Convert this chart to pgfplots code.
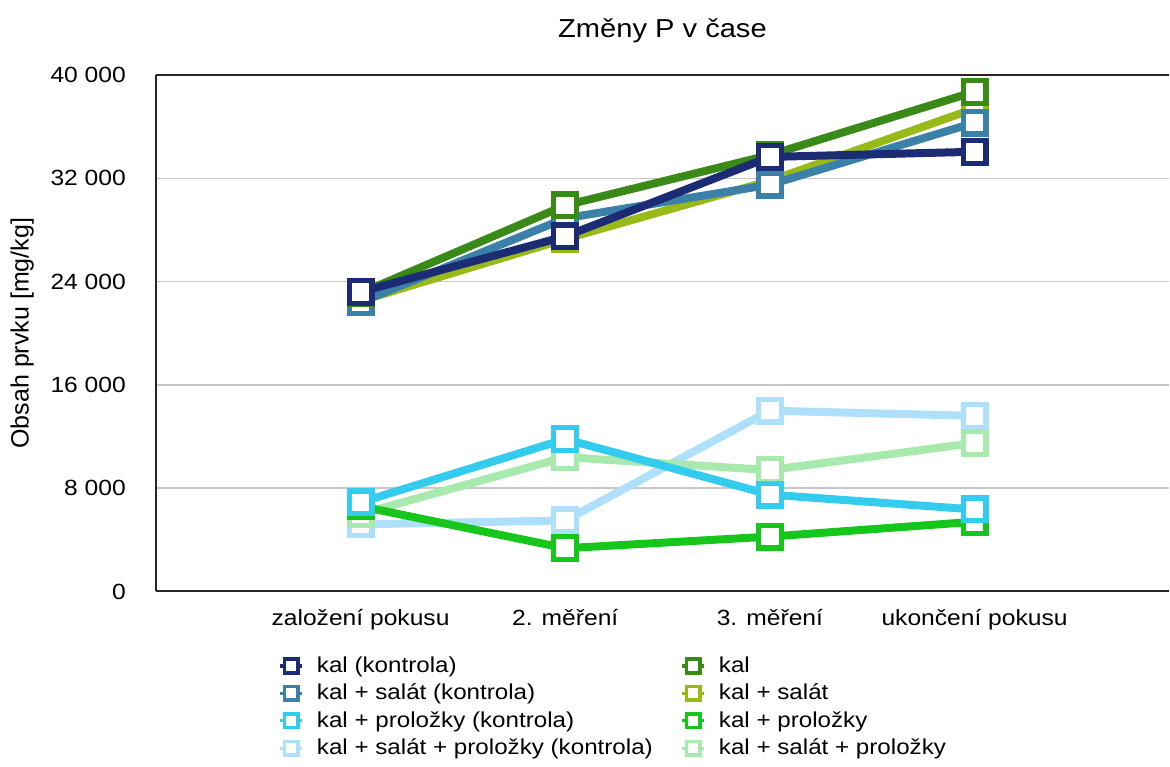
\documentclass[border=0pt]{standalone}
\usepackage{fontspec}
\setmainfont{Liberation Sans}[FakeStretch=1.12]
\newfontfamily\ylabfont{Liberation Sans}
\usepackage{pgfplots}
\pgfplotsset{compat=1.18}
\definecolor{cA}{HTML}{1C2C74}
\definecolor{cB}{HTML}{3A80A8}
\definecolor{cC}{HTML}{34CCEE}
\definecolor{cD}{HTML}{AEE0FC}
\definecolor{cE}{HTML}{3A8A18}
\definecolor{cF}{HTML}{98BA18}
\definecolor{cG}{HTML}{16C61A}
\definecolor{cH}{HTML}{A8EAAE}
\pgfplotsset{
  ser/.style={color=#1, line width=4pt, mark=square*, mark size=5.7pt,
    mark options={fill=white, line width=2.6pt, solid}},
  leg/.style={color=#1, line width=1.6pt, mark=square*, mark size=3.4pt,
    mark options={fill=white, line width=1.8pt, solid}},
}
\begin{document}
\begin{tikzpicture}
\begin{axis}[
  scale only axis, width=507pt, height=258.5pt,
  xmin=-1, xmax=3.95, ymin=0, ymax=40000,
  xtick={0,1,2,3},
  xticklabels={založení pokusu, 2. měření, 3. měření, ukončení pokusu},
  ytick={0,8000,16000,24000,32000,40000},
  scaled y ticks=false,
  /pgf/number format/1000 sep={\ },
  /pgf/number format/assume math mode=true,
  ymajorgrids, grid style={black!22, line width=0.7pt},
  major tick length=0pt,
  axis x line*=bottom, axis y line*=left,
  axis line style={-, line width=1pt, black!85},
  extra y ticks={40000}, extra y tick labels={},
  extra y tick style={grid style={black!85, line width=1pt}},
  tick label style={font=\fontsize{11}{13}\selectfont},
  yticklabel style={xshift=-11.5pt},
  xticklabel style={yshift=-5.5pt},
  ylabel={\ylabfont Obsah prvku [mg/kg]},
  ylabel style={at={(axis description cs:-0.132,0.5)}, anchor=center, font=\fontsize{12.5}{14}\selectfont},
  title={Změny P v čase},
  title style={at={(axis description cs:0.5,1)}, anchor=center, yshift=16pt, font=\fontsize{13}{15}\selectfont},
  legend columns=2,
  legend cell align=left,
  legend style={at={(0.115,-0.11)}, anchor=north west, draw=none, fill=none,
    font=\fontsize{10.8}{13}\selectfont, row sep=0.3pt,
    /tikz/every odd column/.append style={column sep=4.5pt},
    /tikz/every even column/.append style={column sep=12pt}},
  legend image code/.code={\draw[mark repeat=2, mark phase=2, #1] plot coordinates {(0pt,0pt) (5.5pt,0pt) (11pt,0pt)};},
  after end axis/.code={
    \path (rel axis cs:0,1) ++(0pt,37.5pt);
    \path (rel axis cs:0,0) ++(-78pt,-87.5pt);
  },
]
\addlegendimage{leg=cA}\addlegendentry{kal (kontrola)}
\addlegendimage{leg=cE}\addlegendentry{kal}
\addlegendimage{leg=cB}\addlegendentry{kal + salát (kontrola)}
\addlegendimage{leg=cF}\addlegendentry{kal + salát}
\addlegendimage{leg=cC}\addlegendentry{kal + proložky (kontrola)}
\addlegendimage{leg=cG}\addlegendentry{kal + proložky}
\addlegendimage{leg=cD}\addlegendentry{kal + salát + proložky (kontrola)}
\addlegendimage{leg=cH}\addlegendentry{kal + salát + proložky}

% kal + salát + proložky (kontrola)
\addplot[ser=cD, forget plot] coordinates {(0,5200) (1,5500) (2,14000) (3,13600)};
% kal + salát + proložky
\addplot[ser=cH, forget plot] coordinates {(0,6000) (1,10400) (2,9400) (3,11500)};
% kal + proložky
\addplot[ser=cG, forget plot] coordinates {(0,6600) (1,3350) (2,4250) (3,5400)};
% kal + proložky (kontrola)
\addplot[ser=cC, forget plot] coordinates {(0,6900) (1,11800) (2,7500) (3,6350)};
% kal + salát
\addplot[ser=cF, forget plot] coordinates {(0,22500) (1,27300) (2,31800) (3,37400)};
% kal + salát (kontrola)
\addplot[ser=cB, forget plot] coordinates {(0,22400) (1,28900) (2,31500) (3,36300)};
% kal
\addplot[ser=cE, forget plot] coordinates {(0,23100) (1,29900) (2,33800) (3,38700)};
% kal (kontrola)
\addplot[ser=cA, forget plot] coordinates {(0,23200) (1,27500) (2,33650) (3,34050)};
\end{axis}
\end{tikzpicture}
\end{document}
